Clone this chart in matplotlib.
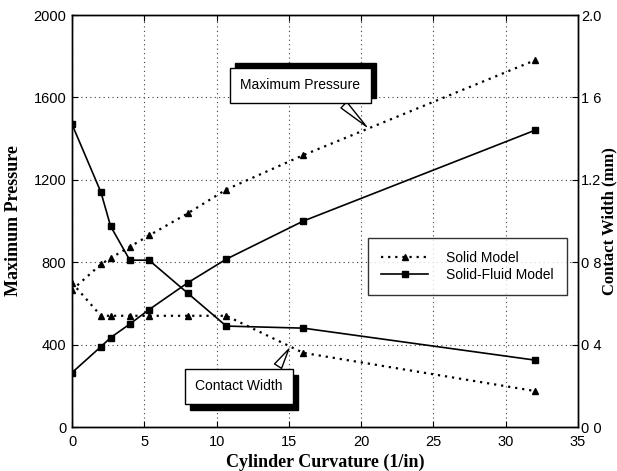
import matplotlib
matplotlib.use("Agg")
import matplotlib.pyplot as plt
from matplotlib.patches import Rectangle
from matplotlib.transforms import IdentityTransform

# ---- data ----
curvature = [0, 2, 2.67, 4, 5.33, 8, 10.67, 16, 32]
solid_pressure = [665, 790, 820, 875, 930, 1037, 1153, 1320, 1780]
solid_width = [0.70, 0.54, 0.54, 0.54, 0.54, 0.54, 0.54, 0.36, 0.175]
sf_pressure = [264, 390, 434, 500, 570, 700, 815, 1000, 1440]
sf_width = [1.47, 1.14, 0.975, 0.81, 0.81, 0.65, 0.49, 0.48, 0.325]

x_ticks = [0, 5, 10, 15, 20, 25, 30, 35]
left_ticks = [0, 400, 800, 1200, 1600, 2000]
right_ticks = [0.0, 0.4, 0.8, 1.2, 1.6, 2.0]
right_ticklabels = ["0 0", "0 4", "0 8", "1.2", "1 6", "2.0"]

series_names = ["Solid Model", "Solid-Fluid Model"]
xlabel = "Cylinder Curvature (1/in)"
ylabel_left = "Maximum Pressure"
ylabel_right = "Contact Width (mm)"

plt.rcParams['font.family'] = ['Liberation Sans', 'DejaVu Sans']

fig = plt.figure(figsize=(6.17, 4.71), dpi=100)
ax = fig.add_axes([0.1167, 0.0934, 0.8201, 0.8746])
ax2 = ax.twinx()

ax.set_xlim(0, 35)
ax.set_ylim(0, 2000)
ax2.set_ylim(0, 2.0)

lw = 1.2
ms = 5
dot = (0, (1, 2.2))
ax.plot(curvature, solid_pressure, color='black', linestyle=dot, linewidth=1.6,
        marker='^', markersize=ms)
ax.plot(curvature, sf_pressure, color='black', linestyle='-', linewidth=lw,
        marker='s', markersize=ms)
l1, = ax2.plot(curvature, solid_width, color='black', linestyle=dot, linewidth=1.6,
               marker='^', markersize=ms)
l2, = ax2.plot(curvature, sf_width, color='black', linestyle='-', linewidth=lw,
               marker='s', markersize=ms)

ax.set_xticks(x_ticks)
ax.set_yticks(left_ticks)
ax2.set_yticks(right_ticks)
ax2.set_yticklabels(right_ticklabels)

ax.grid(True, color='0.25', linestyle=(0, (1, 3)), linewidth=0.8)
ax.tick_params(direction='in', length=4, width=0.8, labelsize=10.5, top=True, pad=4)
ax.tick_params(axis='x', pad=6)
ax2.tick_params(direction='in', length=4, width=0.8, labelsize=10.5, pad=2)
for a in (ax, ax2):
    for s in a.spines.values():
        s.set_linewidth(1.0)

serif = ['Liberation Serif', 'DejaVu Serif']
ax.set_xlabel(xlabel, family=serif, fontweight='bold', fontsize=13, labelpad=3)
ax.set_ylabel(ylabel_left, family=serif, fontweight='bold', fontsize=13, labelpad=8)
ax2.set_ylabel(ylabel_right, family=serif, fontweight='bold', fontsize=12)
ax2.yaxis.set_label_coords((601 - 72) / 506, 0.5)

leg = ax2.legend([l1, l2], series_names, loc='upper left', bbox_to_anchor=(0.585, 0.459),
                 fontsize=10, frameon=True, fancybox=False, edgecolor='black',
                 handlelength=3.4, borderpad=0.95, labelspacing=0.2, handletextpad=1.3,
                 borderaxespad=0)
leg.get_frame().set_linewidth(1.0)


def callout(axis, text, xy, xytext):
    return axis.annotate(text, xy=xy, xytext=xytext, ha='center', va='center', fontsize=10,
                         bbox=dict(boxstyle='square,pad=0.75', fc='white', ec='black', lw=1),
                         arrowprops=dict(arrowstyle='wedge,tail_width=0.6,shrink_factor=0.5',
                                         fc='white', ec='black', lw=1, relpos=(0.75, 0.0)),
                         zorder=6)


a1 = callout(ax, "Maximum Pressure", (20.5, 1450), (15.8, 1660))
a2 = callout(ax2, "Contact Width", (15.1, 0.39), (11.55, 0.197))

fig.canvas.draw()
for axis, ann, dx, dy in ((ax, a1, 5, 5), (ax2, a2, 5, -6)):
    bb = ann.get_bbox_patch().get_window_extent()
    shadow = Rectangle((bb.x0 + dx, bb.y0 + dy), bb.width, bb.height,
                       transform=IdentityTransform(), fc='black', ec='black',
                       zorder=5, clip_on=False)
    axis.add_artist(shadow)

fig.savefig("out.png", dpi=100)
